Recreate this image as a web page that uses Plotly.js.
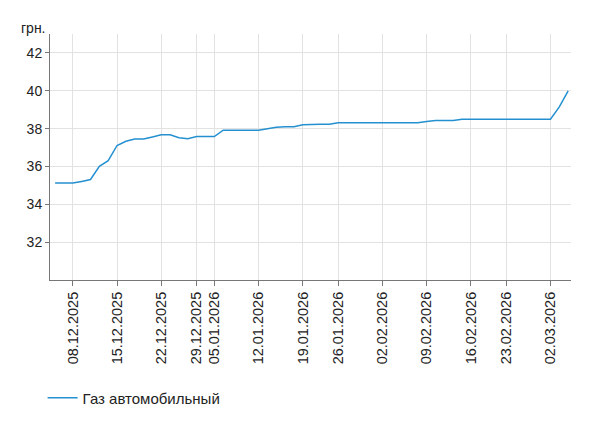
<!DOCTYPE html>
<html>
<head>
<meta charset="utf-8">
<script src="https://cdn.plot.ly/plotly-3.0.1.min.js"></script>
<style>html,body{margin:0;padding:0;background:#fff;}#chart{width:600px;height:427px;}</style>
</head>
<body>
<div id="chart"></div>
<script>
const dates = [
  "04.12.2025","05.12.2025",
  "08.12.2025","09.12.2025","10.12.2025","11.12.2025","12.12.2025",
  "15.12.2025","16.12.2025","17.12.2025","18.12.2025","19.12.2025",
  "22.12.2025","23.12.2025","24.12.2025","26.12.2025",
  "29.12.2025","30.12.2025",
  "05.01.2026","06.01.2026","07.01.2026","08.01.2026","09.01.2026",
  "12.01.2026","13.01.2026","14.01.2026","15.01.2026","16.01.2026",
  "19.01.2026","20.01.2026","21.01.2026","23.01.2026",
  "26.01.2026","27.01.2026","28.01.2026","29.01.2026","30.01.2026",
  "02.02.2026","03.02.2026","04.02.2026","05.02.2026","06.02.2026",
  "09.02.2026","10.02.2026","11.02.2026","12.02.2026","13.02.2026",
  "16.02.2026","17.02.2026","18.02.2026","20.02.2026",
  "23.02.2026","24.02.2026","25.02.2026","26.02.2026","27.02.2026",
  "02.03.2026","03.03.2026","04.03.2026"
];
const gasPrices = [
  35.12,35.12,
  35.12,35.21,35.31,36.01,36.31,
  37.11,37.33,37.45,37.45,37.56,
  37.67,37.67,37.52,37.46,
  37.58,37.58,
  37.58,37.92,37.92,37.92,37.92,
  37.92,37.99,38.07,38.1,38.1,
  38.2,38.23,38.23,38.23,
  38.31,38.31,38.31,38.31,38.31,
  38.31,38.31,38.31,38.31,38.31,
  38.38,38.43,38.43,38.43,38.5,
  38.5,38.5,38.5,38.5,
  38.5,38.5,38.5,38.5,38.5,
  38.5,39.15,40.0
];
const tickLabels = [
  "08.12.2025","15.12.2025","22.12.2025","29.12.2025","05.01.2026",
  "12.01.2026","19.01.2026","26.01.2026","02.02.2026","09.02.2026",
  "16.02.2026","23.02.2026","02.03.2026"
];
const yTicks = [32,34,36,38,40,42];
const seriesName = "Газ автомобильный";
const unitLabel = "грн.";

const font = "Liberation Sans, Arial, sans-serif";

Plotly.newPlot("chart", [{
  x: dates,
  y: gasPrices,
  type: "scatter",
  mode: "lines",
  name: seriesName,
  line: {color: "#2490d0", width: 1.5},
  showlegend: true
}], {
  width: 600, height: 427,
  margin: {l: 50, r: 29, t: 34, b: 147, pad: 0},
  paper_bgcolor: "#fff", plot_bgcolor: "#fff",
  font: {family: font, size: 14, color: "#222"},
  xaxis: {
    type: "category",
    range: [-0.58, 58.32],
    tickmode: "array",
    tickvals: tickLabels,
    ticktext: tickLabels,
    tickangle: -90,
    ticks: "outside", ticklen: 5, tickcolor: "#777", tickwidth: 1,
    showgrid: true, gridcolor: "#e2e2e2", gridwidth: 1,
    showline: true, linecolor: "#777", linewidth: 1,
    zeroline: false,
    tickfont: {family: font, size: 14.5, color: "#222"},
    fixedrange: true
  },
  yaxis: {
    range: [30, 43],
    tickmode: "array",
    tickvals: yTicks,
    ticktext: yTicks.map(String),
    ticks: "outside", ticklen: 4, tickcolor: "#777", tickwidth: 1,
    showgrid: true, gridcolor: "#e2e2e2", gridwidth: 1,
    showline: true, linecolor: "#777", linewidth: 1,
    zeroline: false,
    tickfont: {family: font, size: 14, color: "#222"},
    fixedrange: true
  },
  legend: {
    orientation: "h",
    xref: "container", yref: "container",
    x: 0.071, y: 0.068,
    xanchor: "left", yanchor: "middle",
    font: {family: font, size: 15, color: "#222"},
    bgcolor: "rgba(0,0,0,0)"
  },
  annotations: [{
    text: unitLabel,
    xref: "paper", yref: "paper",
    x: 0, y: 1, xanchor: "right", yanchor: "bottom",
    xshift: -2, yshift: -4,
    showarrow: false,
    font: {family: font, size: 14, color: "#222"}
  }]
}, {displayModeBar: false, staticPlot: true});
</script>
</body>
</html>
